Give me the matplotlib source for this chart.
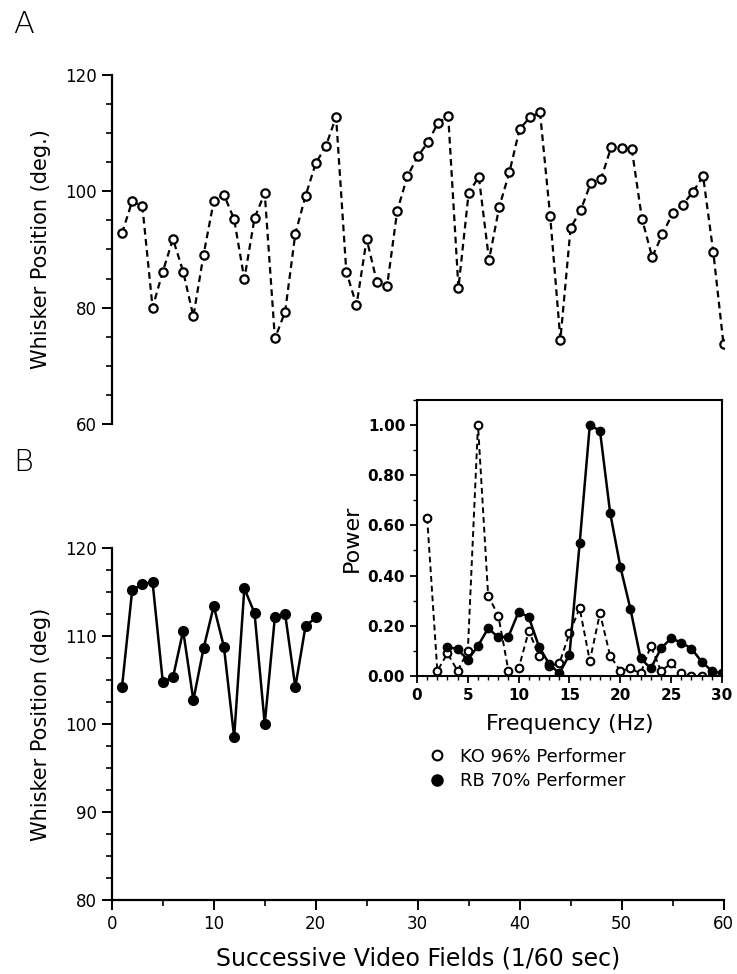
import numpy as np
import matplotlib
matplotlib.use("Agg")
import matplotlib.pyplot as plt
from matplotlib.lines import Line2D
from matplotlib.ticker import MultipleLocator, FormatStrFormatter

# panel A: KO whisker position, fields 1..60
fields_a = list(range(1, 61))
pos_a = [92.8, 98.3, 97.4, 80.0, 86.2, 91.8, 86.2, 78.5, 89.1, 98.3,
         99.4, 95.2, 84.9, 95.4, 99.7, 74.7, 79.3, 92.7, 99.2, 104.8,
         107.8, 112.8, 86.2, 80.4, 91.8, 84.4, 83.7, 96.7, 102.6, 106.0,
         108.4, 111.8, 112.9, 83.4, 99.7, 102.5, 88.2, 97.3, 103.3, 110.7,
         112.7, 113.6, 95.7, 74.5, 93.7, 96.8, 101.5, 102.2, 107.7, 107.5,
         107.3, 95.3, 88.7, 92.6, 96.2, 97.7, 99.9, 102.6, 89.5, 73.7]

# panel B: RB whisker position, fields 1..20
fields_b = list(range(1, 21))
pos_b = [104.2, 115.2, 115.9, 116.1, 104.8, 105.3, 110.6, 102.7, 108.6, 113.4,
         108.75, 98.5, 115.4, 112.6, 100.0, 112.2, 112.5, 104.2, 111.1, 112.1]

# inset: power spectra
freq_ko = list(range(1, 31))
power_ko = [0.63, 0.02, 0.09, 0.02, 0.10, 1.00, 0.32, 0.24, 0.02, 0.03,
            0.18, 0.08, 0.04, 0.05, 0.17, 0.27, 0.06, 0.25, 0.08, 0.02,
            0.03, 0.01, 0.12, 0.02, 0.05, 0.01, 0.00, 0.00, 0.00, 0.00]
freq_rb = list(range(3, 31))
power_rb = [0.117, 0.106, 0.064, 0.12, 0.19, 0.154, 0.157, 0.256, 0.234, 0.117,
            0.048, 0.01, 0.085, 0.528, 1.00, 0.977, 0.65, 0.436, 0.266, 0.07,
            0.03, 0.11, 0.15, 0.133, 0.109, 0.057, 0.02, 0.01]

plt.rcParams['font.family'] = ['DejaVu Sans']

fig = plt.figure(figsize=(7.37, 9.74), dpi=100)

# ---- panel A
axA = fig.add_axes([0.1517, 0.5647, 0.830, 0.3583])
axA.plot(fields_a, pos_a, ls=(0, (3, 2)), color='black', lw=1.6,
         marker='o', ms=6, mfc='white', mec='black', mew=1.6)
axA.set_xlim(0, 60)
axA.set_ylim(60, 120)
for s in ['top', 'right', 'bottom']:
    axA.spines[s].set_visible(False)
axA.spines['left'].set_linewidth(1.6)
axA.set_xticks([])
axA.yaxis.set_major_locator(MultipleLocator(20))
axA.yaxis.set_minor_locator(MultipleLocator(5))
axA.tick_params(axis='y', which='major', length=7, width=1.4, labelsize=12)
axA.tick_params(axis='y', which='minor', length=4, width=1.2)
axA.set_ylabel('Whisker Position (deg.)', fontsize=15)
axA.yaxis.set_label_coords(-0.10, 0.5)

# ---- panel B
axB = fig.add_axes([0.1517, 0.076, 0.830, 0.3614])
axB.plot(fields_b, pos_b, ls='-', color='black', lw=1.8,
         marker='o', ms=7, mfc='black', mec='black')
axB.set_xlim(0, 60)
axB.set_ylim(80, 120)
for s in ['top', 'right']:
    axB.spines[s].set_visible(False)
axB.spines['left'].set_linewidth(1.6)
axB.spines['bottom'].set_linewidth(1.6)
axB.xaxis.set_major_locator(MultipleLocator(10))
axB.xaxis.set_minor_locator(MultipleLocator(5))
axB.yaxis.set_major_locator(MultipleLocator(10))
axB.yaxis.set_minor_locator(MultipleLocator(2.5))
axB.tick_params(which='major', length=7, width=1.4, labelsize=12)
axB.tick_params(which='minor', length=4, width=1.2)
axB.set_ylabel('Whisker Position (deg)', fontsize=15)
axB.yaxis.set_label_coords(-0.10, 0.5)
axB.set_xlabel('Successive Video Fields (1/60 sec)', fontsize=17, labelpad=10)

# ---- inset
axI = fig.add_axes([0.5658, 0.306, 0.4138, 0.2834])
axI.plot(freq_ko, power_ko, ls=(0, (3, 2)), color='black', lw=1.4,
         marker='o', ms=5.5, mfc='white', mec='black', mew=1.5)
axI.plot(freq_rb, power_rb, ls='-', color='black', lw=1.8,
         marker='o', ms=6, mfc='black', mec='black')
axI.set_xlim(0, 30)
axI.set_ylim(0, 1.1)
for s in axI.spines.values():
    s.set_linewidth(1.5)
axI.xaxis.set_major_locator(MultipleLocator(5))
axI.xaxis.set_minor_locator(MultipleLocator(1))
axI.yaxis.set_major_locator(MultipleLocator(0.2))
axI.yaxis.set_minor_locator(MultipleLocator(0.1))
axI.yaxis.set_major_formatter(FormatStrFormatter('%.2f'))
axI.tick_params(which='major', length=5, width=1.3, labelsize=11)
axI.tick_params(which='minor', length=3, width=1.0)
for lab in axI.get_xticklabels() + axI.get_yticklabels():
    lab.set_fontweight('bold')
axI.set_ylabel('Power', fontsize=16)
axI.set_xlabel('Frequency (Hz)', fontsize=16, labelpad=8)

# legend
handles = [Line2D([], [], ls='none', marker='o', ms=7, mfc='white', mec='black', mew=1.5),
           Line2D([], [], ls='none', marker='o', ms=8, mfc='black', mec='black')]
fig.legend(handles, ['KO 96% Performer', 'RB 70% Performer'],
           loc='upper left', bbox_to_anchor=(0.553, 0.249), frameon=False,
           fontsize=13, handletextpad=0.5, labelspacing=0.35, handlelength=1.5)

# panel letters
fig.text(0.018, 0.975, 'A', fontsize=22, fontweight='light', va='center')
fig.text(0.018, 0.525, 'B', fontsize=22, fontweight='light', va='center')

fig.savefig('out.png', dpi=100, facecolor='white')
